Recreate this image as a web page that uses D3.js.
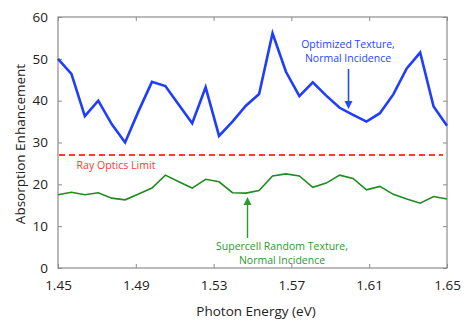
<!DOCTYPE html>
<html>
<head>
<meta charset="utf-8">
<script src="https://cdn.jsdelivr.net/npm/d3@7"></script>
<style>
  body { margin: 0; background: #fff; }
  text { font-family: "Open Sans", sans-serif; }
</style>
</head>
<body>
<div id="chart"></div>
<script>
// ===== data =====
var energy = [1.4500,1.4569,1.4638,1.4707,1.4776,1.4845,1.4914,1.4983,1.5052,1.5121,
              1.5190,1.5259,1.5328,1.5397,1.5466,1.5534,1.5603,1.5672,1.5741,1.5810,
              1.5879,1.5948,1.6017,1.6086,1.6155,1.6224,1.6293,1.6362,1.6431,1.6500]
var optimized = [50,46.4,36.3,40,34.4,30,37.5,44.5,43.5,39,
                 34.6,43.2,31.6,35,38.8,41.6,56.1,46.9,41.1,44.4,
                 41.2,38.3,36.6,35.0,37,41.5,47.7,51.5,38.6,34]
var supercell = [17.5,18.1,17.5,18.0,16.7,16.3,17.7,19.1,22.2,20.6,
                 19.1,21.2,20.6,18.0,17.9,18.5,22.0,22.5,22.0,19.3,
                 20.3,22.2,21.4,18.7,19.5,17.6,16.5,15.5,17.1,16.5]
var rayOptics = 27
var xTicks = [1.45,1.49,1.53,1.57,1.61,1.65]
var yTicks = [0,10,20,30,40,50,60]

var width = 472, height = 323
var plotLeft = 58, plotRight = 447, plotTop = 17, plotBottom = 268

var svg = d3.select("#chart")
    .append("svg")
    .attr("width", width)
    .attr("height", height)

var x = d3.scaleLinear().domain([1.45, 1.65]).range([plotLeft, plotRight])
var y = d3.scaleLinear().domain([0, 60]).range([plotBottom, plotTop])

// frame
svg.append("rect")
    .attr("x", plotLeft).attr("y", plotTop)
    .attr("width", plotRight - plotLeft).attr("height", plotBottom - plotTop)
    .attr("fill", "none")
    .attr("stroke", "#8c8c8c")
    .attr("stroke-width", 1.2)

// axes, ticks pointing inward
function styleAxis(g){
    g.select(".domain").remove()
    g.selectAll(".tick line").attr("stroke", "#8c8c8c")
    g.selectAll(".tick text")
        .attr("fill", "#222")
        .attr("font-size", "13.5px")
        .attr("font-family", "Open Sans, sans-serif")
}
svg.append("g")
    .attr("transform", "translate(0," + plotBottom + ")")
    .call(d3.axisBottom(x).tickValues(xTicks).tickFormat(d3.format(".2f")).tickSizeInner(-4).tickSizeOuter(0).tickPadding(12))
    .call(styleAxis)
svg.append("g")
    .attr("transform", "translate(0," + plotTop + ")")
    .call(d3.axisTop(x).tickValues(xTicks).tickFormat("").tickSizeInner(-4).tickSizeOuter(0))
    .call(styleAxis)
svg.append("g")
    .attr("transform", "translate(" + plotLeft + ",0)")
    .call(d3.axisLeft(y).tickValues(yTicks).tickSizeInner(-4).tickSizeOuter(0).tickPadding(10))
    .call(styleAxis)
svg.append("g")
    .attr("transform", "translate(" + plotRight + ",0)")
    .call(d3.axisRight(y).tickValues(yTicks).tickFormat("").tickSizeInner(-4).tickSizeOuter(0))
    .call(styleAxis)

// ray optics limit
svg.append("line")
    .attr("x1", x(1.45) + 1).attr("x2", x(1.65) - 4)
    .attr("y1", y(rayOptics)).attr("y2", y(rayOptics))
    .attr("stroke", "#ff3b2f")
    .attr("stroke-width", 2)
    .attr("stroke-dasharray", "6,4")

var line = d3.line()
    .x(function(d, i){ return x(energy[i]) })
    .y(function(d){ return y(d) })

svg.append("path")
    .datum(supercell)
    .attr("d", line)
    .attr("fill", "none")
    .attr("stroke", "#1e8c1e")
    .attr("stroke-width", 1.6)

svg.append("path")
    .datum(optimized)
    .attr("d", line)
    .attr("fill", "none")
    .attr("stroke", "#1f3dff")
    .attr("stroke-width", 2.6)

// annotations
svg.append("text")
    .text("Ray Optics Limit")
    .attr("x", 116).attr("y", 169)
    .attr("text-anchor", "middle")
    .attr("font-size", "10.6px")
    .attr("fill", "#ff3b2f")

var blue = svg.append("g").attr("fill", "#2448ff")
blue.append("text").text("Optimized Texture,")
    .attr("x", 348).attr("y", 48).attr("text-anchor", "middle").attr("font-size", "10.5px")
blue.append("text").text("Normal Incidence")
    .attr("x", 348).attr("y", 62).attr("text-anchor", "middle").attr("font-size", "10.5px")
svg.append("line")
    .attr("x1", 348.5).attr("x2", 348.5).attr("y1", 69).attr("y2", 103)
    .attr("stroke", "#2448ff").attr("stroke-width", 1.6)
svg.append("path")
    .attr("d", "M344.5,101 L352.5,101 L348.5,109 Z")
    .attr("fill", "#2448ff")

var green = svg.append("g").attr("fill", "#2d9a2d")
green.append("text").text("Supercell Random Texture,")
    .attr("x", 282).attr("y", 250).attr("text-anchor", "middle").attr("font-size", "10.5px")
green.append("text").text("Normal Incidence")
    .attr("x", 282).attr("y", 264).attr("text-anchor", "middle").attr("font-size", "10.5px")
svg.append("line")
    .attr("x1", 247.5).attr("x2", 247.5).attr("y1", 238).attr("y2", 203)
    .attr("stroke", "#2d9a2d").attr("stroke-width", 1.4)
svg.append("path")
    .attr("d", "M243.5,205 L251.5,205 L247.5,197 Z")
    .attr("fill", "#2d9a2d")

// axis titles
svg.append("text")
    .text("Photon Energy (eV)")
    .attr("x", 256).attr("y", 316)
    .attr("text-anchor", "middle")
    .attr("font-size", "13.5px")
    .attr("fill", "#222")

svg.append("text")
    .text("Absorption Enhancement")
    .attr("transform", "translate(25,144) rotate(-90)")
    .attr("text-anchor", "middle")
    .attr("font-size", "13.5px")
    .attr("fill", "#222")
</script>
</body>
</html>
